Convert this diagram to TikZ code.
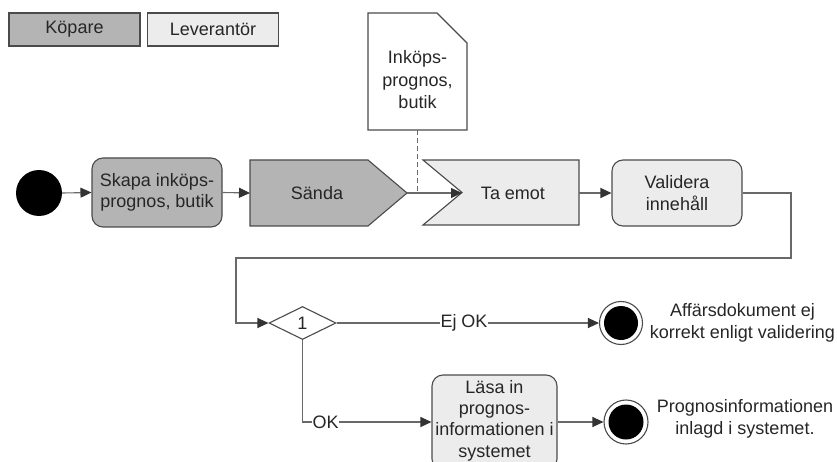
\documentclass[tikz,border=0pt]{standalone}
\usepackage{fontspec}
\setmainfont{Liberation Sans}
\usetikzlibrary{arrows.meta,shapes.geometric,calc}
\definecolor{buyer}{RGB}{180,180,180}
\definecolor{seller}{RGB}{236,236,236}
\definecolor{edgegray}{RGB}{75,75,75}
\definecolor{conngray}{RGB}{105,105,105}
\begin{document}
\begin{tikzpicture}[x=1pt,y=-1pt,
  font=\fontsize{18}{21.5}\selectfont,
  every node/.style={text=black!85},
  box/.style={draw=edgegray, line width=1.1pt, rounded corners=11pt, align=center, inner sep=0pt},
  legbox/.style={draw=edgegray, line width=1.1pt, inner sep=0pt, minimum width=131pt, minimum height=33pt},
  shapeline/.style={draw=edgegray, line width=1.1pt, line join=miter},
  conn/.style={draw=conngray, line width=1.1pt},
  arr/.style={conn, -{Triangle[length=11pt,width=10pt,fill=black!80,color=black!80]}},
  lbl/.style={fill=white, inner sep=0.5pt}]
\useasboundingbox (0,0) rectangle (837,462);
\clip (0,0) rectangle (837,462);
% legend
\node[legbox, fill=buyer] (kop) at (74.5,29.5) {Köpare};
\node[legbox, fill=seller] (lev) at (213,29.5) {Leverantör};
% document
\path[shapeline, fill=white] (368,13) -- (437,13) -- (467,43) -- (467,130) -- (368,130) -- cycle;
\node[minimum width=99pt, minimum height=117pt, inner sep=0pt] (doc) at (417.5,71.5) {};
\node[align=center, font=\fontsize{18}{22.5}\selectfont] (doctext) at (417.5,80) {Inköps-\\prognos,\\butik};
% start
\node[circle, fill=black, minimum size=46pt, inner sep=0pt] (start) at (39,193) {};
% Skapa
\node[box, fill=buyer, minimum width=130pt, minimum height=69pt] (skapa) at (157,192.5) {Skapa inköps-\\prognos, butik};
% Sända (send signal)
\path[shapeline, fill=buyer] (250,160) -- (368,160) -- (407,193) -- (368,226) -- (250,226) -- cycle;
\node (sanda) at (317,193) {Sända};
\coordinate (sandaW) at (250,193);
\coordinate (sandaE) at (407,193);
% Ta emot (receive signal)
\path[shapeline, fill=seller] (423,160) -- (579,160) -- (579,225) -- (423,225) -- (462,192.5) -- cycle;
\node (taemot) at (513,193) {Ta emot};
\coordinate (taW) at (462,193);
\coordinate (taE) at (579,193);
% Validera
\node[box, fill=seller, minimum width=130pt, minimum height=66pt] (validera) at (677,193) {Validera\\innehåll};
% decision
\node[diamond, draw=edgegray, line width=1.1pt, fill=white, minimum width=67pt, minimum height=33pt, inner sep=0pt] (dia) at (302.5,323) {1};
% ends
\node[circle, draw=edgegray, line width=1.1pt, fill=white, minimum size=43pt, inner sep=0pt] (end1) at (621,323) {};
\node[circle, fill=black, minimum size=34pt, inner sep=0pt] (end1in) at (end1.center) {};
\node[align=center] (t1) at (742.5,323) {Affärsdokument ej\\korrekt enligt validering};
\node[box, fill=seller, minimum width=125pt, minimum height=95pt] (lasa) at (494.5,422.5) {};
\node[align=center, font=\fontsize{18}{21.3}\selectfont] (lasatext) at (494.5,420.5) {Läsa in\\prognos-\\informationen i\\systemet};
\node[circle, draw=edgegray, line width=1.1pt, fill=white, minimum size=44pt, inner sep=0pt] (end2) at (626,422) {};
\node[circle, fill=black, minimum size=35pt, inner sep=0pt] (end2in) at (end2.center) {};
\node[align=center] (t2) at (745,419) {Prognosinformationen\\inlagd i systemet.};
% labels on connectors
\node[lbl] (ejok) at (464,323) {Ej OK};
\node[lbl] (ok) at (325.5,422) {OK};
% connectors
\draw[arr] (start.east) -- (skapa.west);
\draw[arr] (skapa.east) -- (sandaW);
\draw[arr] (sandaE) -- (taW);
\draw[conn, dashed, dash pattern=on 5pt off 3pt] (doc.south) -- (doc.south |- sandaE);
\draw[arr] (taE) -- (validera.west);
\draw[arr] (validera.east) -- (791,193) -- (791,258) -- (236,258) -- (236,323) -- (dia.west);
\draw[conn] (dia.east) -- (ejok.west);
\draw[arr] (ejok.east) -- (end1.west);
\draw[conn] (dia.south) |- (ok.west);
\draw[arr] (ok.east) -- (lasa.west |- ok.east);
\draw[arr] (lasa.east |- end2.west) -- (end2.west);
\end{tikzpicture}
\end{document}
